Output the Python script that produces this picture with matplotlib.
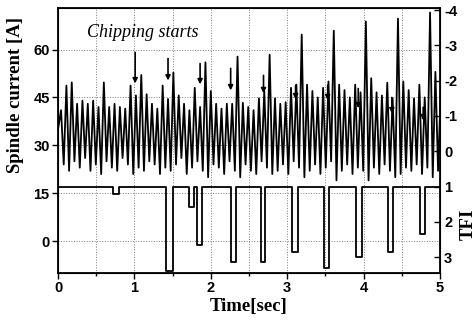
import matplotlib.pyplot as plt
import numpy as np
from matplotlib.ticker import MultipleLocator

plt.rcParams["axes.unicode_minus"] = False

# spindle current: peak and trough of each cycle [A]
start_value = 35.0
period = 0.07
first_peak_t = 0.04
peaks = [
    41, 48.7, 49.7, 43, 44, 43, 44, 42, 49.7, 42,
    43, 42, 41.5, 48.7, 45.6, 52, 46, 43, 41.5, 48.7,
    44.5, 52.8, 45.6, 43, 41, 48, 42, 56, 47, 43,
    41.5, 43, 43, 57.8, 43.3, 42, 41, 44.7, 47, 58.4,
    44.7, 43, 43.5, 48, 49, 64.7, 49, 47, 45, 48,
    50, 65.9, 49, 47.3, 45, 49, 46.6, 68.8, 51, 46.6,
    45.6, 49.6, 44.7, 69.7, 50, 47.3, 44.7, 49, 45, 71.6,
    53, 47,
]
troughs = [
    24, 22, 25, 23, 26, 22, 24, 21, 25, 23,
    22, 26, 24, 21, 23, 22, 25, 24, 21, 23,
    22, 24, 26, 21, 23, 25, 22, 20, 24, 23,
    21, 25, 22, 20, 24, 22, 21, 25, 23, 21,
    22, 24, 21, 25, 23, 20, 22, 24, 21, 23,
    25, 19, 22, 24, 21, 23, 22, 19, 23, 21,
    24, 22, 20, 21, 23, 22, 24, 21, 23, 20,
    22, 28,
]

# chipping arrows
arrow_t = [1.01, 1.44, 1.86, 2.26, 2.69, 3.11, 3.53, 3.93, 4.37, 4.78]
arrow_top = [59.1, 57.2, 55.6, 54.1, 51.9, 48.8, 48.8, 47.8, 45.0, 41.9]
arrow_tip = [49.4, 50.3, 49.1, 47.2, 46.3, 44.4, 44.1, 41.6, 40.0, 37.8]

# TFI dips
tfi_base = 1.0
dip_start = [0.72, 1.42, 1.72, 1.82, 2.27, 2.66, 3.06, 3.48, 3.90, 4.32, 4.74]
dip_end = [0.80, 1.50, 1.78, 1.88, 2.33, 2.71, 3.14, 3.55, 3.98, 4.38, 4.80]
dip_depth = [1.2, 3.4, 1.57, 2.65, 3.15, 3.15, 2.85, 3.3, 3.0, 2.85, 2.35]

# build series
n = len(peaks)
peak_t = first_peak_t + period * np.arange(n)
sig_t = [0.0]
sig_v = [start_value]
for k in range(n):
    sig_t += [peak_t[k], peak_t[k] + period / 2]
    sig_v += [peaks[k], troughs[k]]

tfi_t = [0.0]
tfi_v = [tfi_base]
for s, e, d in zip(dip_start, dip_end, dip_depth):
    tfi_t += [s, s, e, e]
    tfi_v += [tfi_base, d, d, tfi_base]
tfi_t.append(5.0)
tfi_v.append(tfi_base)

tick_font = {"family": "Liberation Sans", "weight": "bold", "size": 10.5}
label_font = {"family": "Liberation Serif", "weight": "bold", "size": 13.5}

fig = plt.figure(figsize=(4.77, 3.23), dpi=100)
ax = fig.add_axes([0.1216, 0.155, 0.8008, 0.820])

ax.plot(sig_t, sig_v, color="black", lw=1.3)
for t, top, tip in zip(arrow_t, arrow_top, arrow_tip):
    ax.annotate("", xy=(t, tip), xytext=(t, top),
                arrowprops=dict(arrowstyle="-|>", color="black", lw=1.2,
                                mutation_scale=7, shrinkA=0, shrinkB=0))

ax.set_xlim(0, 5)
ax.set_ylim(-10, 73)
ax.set_xticks([0, 1, 2, 3, 4, 5])
ax.xaxis.set_minor_locator(MultipleLocator(0.5))
ax.set_yticks([0, 15, 30, 45, 60])
ax.grid(True, which="both", axis="x", ls=":", color="gray", lw=0.7)
ax.grid(True, which="major", axis="y", ls=":", color="gray", lw=0.7)
ax.tick_params(which="major", direction="out", length=4, width=1, pad=2)
ax.tick_params(which="minor", direction="out", length=2, width=1)
for lab in ax.get_xticklabels() + ax.get_yticklabels():
    lab.set_fontproperties(tick_font)
for sp in ax.spines.values():
    sp.set_linewidth(1.3)

ax.set_xlabel("Time[sec]", **label_font, labelpad=2)
ax.set_ylabel("Spindle current [A]", **label_font)
ax.yaxis.set_label_coords(-0.088, 0.67)
ax.text(0.38, 65.3, "Chipping starts", family="Liberation Serif",
        style="italic", size=13, ha="left", va="center")

ax2 = ax.twinx()
ax2.plot(tfi_t, tfi_v, color="black", lw=1.3)
ax2.set_ylim(3.45, -4.06)
ax2.set_yticks([-4, -3, -2, -1, 0, 1, 2, 3])
ax2.tick_params(direction="in", length=4, width=1, pad=3)
for lab in ax2.get_yticklabels():
    lab.set_fontproperties(tick_font)
ax2.set_ylabel("TFI", **label_font, rotation=90, va="center", ha="center")
ax2.yaxis.set_label_coords(1.075, 0.185)

fig.savefig("out.png", dpi=100)
